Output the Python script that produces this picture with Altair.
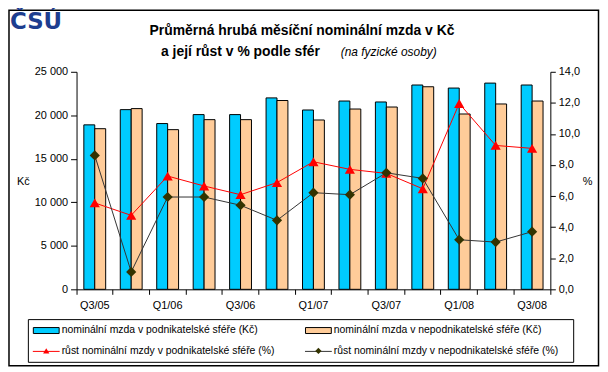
import altair as alt
import pandas as pd

quarters = ["Q3/05", "Q4/05", "Q1/06", "Q2/06", "Q3/06", "Q4/06", "Q1/07",
            "Q2/07", "Q3/07", "Q4/07", "Q1/08", "Q2/08", "Q3/08"]
wage_business = [18900, 20650, 19050, 20080, 20080, 22000, 20610,
                 21640, 21530, 23480, 23130, 23700, 23480]
wage_nonbusiness = [18460, 20770, 18350, 19500, 19500, 21700, 19460,
                    20720, 20950, 23280, 20150, 21300, 21640]
growth_business = [5.56, 4.76, 7.29, 6.65, 6.09, 6.87, 8.21,
                   7.72, 7.46, 6.47, 11.96, 9.26, 9.07]
growth_nonbusiness = [8.62, 1.12, 5.94, 5.94, 5.41, 4.44, 6.22,
                      6.09, 7.50, 7.14, 3.19, 3.04, 3.71]

bar_series = ["nominální mzda v podnikatelské sféře (Kč)",
              "nominální mzda v nepodnikatelské sféře (Kč)"]
line_series = ["růst nominální mzdy v podnikatelské sféře (%)",
               "růst nominální mzdy v nepodnikatelské sféře (%)"]
bar_colors = ["#00CCFF", "#FFCC99"]
line_colors = ["#FF0000", "#333333"]
marker_fill = ["#FF0000", "#333300"]
marker_shapes = ["triangle-up", "diamond"]

left_ticks = [0, 5000, 10000, 15000, 20000, 25000]
right_ticks = [0, 2, 4, 6, 8, 10, 12, 14]

title_line1 = "Průměrná hrubá měsíční nominální mzda v Kč"
title_line2 = "a její růst v % podle sfér"
title_note = "(na fyzické osoby)"
logo = "ČSÚ"

FONT = "Liberation Sans"

bars_df = pd.DataFrame({
    "quarter": quarters * 2,
    "series": [bar_series[0]] * len(quarters) + [bar_series[1]] * len(quarters),
    "value": wage_business + wage_nonbusiness,
})
lines_df = pd.DataFrame({
    "quarter": quarters * 2,
    "series": [line_series[0]] * len(quarters) + [line_series[1]] * len(quarters),
    "value": growth_business + growth_nonbusiness,
})

x_scale = alt.Scale(type="band", domain=quarters, paddingInner=0, paddingOuter=0)
x_axis = alt.Axis(
    title=None, labelAngle=0, labelOverlap=False, labelFont=FONT, labelFontSize=11,
    labelColor="black", domainColor="black", tickColor="black", tickSize=5,
    labelPadding=5, bandPosition=1, tickExtra=True, grid=False,
    labelExpr="(substring(datum.value,1,2) == '1' || substring(datum.value,1,2) == '3') ? datum.value : ''",
)

bars = alt.Chart(bars_df).mark_bar(stroke="black", strokeWidth=1).encode(
    x=alt.X("quarter:N", scale=x_scale, axis=x_axis),
    xOffset=alt.XOffset("series:N", scale=alt.Scale(domain=bar_series, paddingOuter=0.668, paddingInner=0)),
    y=alt.Y("value:Q", scale=alt.Scale(domain=[0, 25000], nice=False),
            axis=alt.Axis(orient="left", values=left_ticks, title="Kč", titleAngle=0,
                          titleX=-54, titleY=110, titleAlign="center", titleBaseline="middle",
                          titleFont=FONT, titleFontSize=11, titleFontWeight="normal",
                          labelFont=FONT, labelFontSize=11, labelColor="black",
                          domainColor="black", tickColor="black", tickSize=6, labelPadding=3,
                          grid=False,
                          labelExpr="replace(format(datum.value, ',.0f'), ',', ' ')")),
    color=alt.Color("series:N", scale=alt.Scale(domain=bar_series, range=bar_colors), legend=None),
)

right_axis = alt.Axis(orient="right", values=right_ticks, title="%", titleAngle=0,
                      titleX=37, titleY=110, titleAlign="center", titleBaseline="middle",
                      titleFont=FONT, titleFontSize=11, titleFontWeight="normal",
                      labelFont=FONT, labelFontSize=11, labelColor="black",
                      domainColor="black", tickColor="black", tickSize=5, labelPadding=3,
                      grid=False,
                      labelExpr="replace(format(datum.value, '.1f'), '.', ',')")

lines = alt.Chart(lines_df).mark_line(strokeWidth=1).encode(
    x=alt.X("quarter:N", scale=x_scale, axis=x_axis),
    y=alt.Y("value:Q", scale=alt.Scale(domain=[0, 14], nice=False), axis=right_axis),
    color=alt.Color("series:N", scale=alt.Scale(domain=line_series, range=line_colors), legend=None),
)
points = alt.Chart(lines_df).mark_point(filled=True, opacity=1, size=105).encode(
    x=alt.X("quarter:N", scale=x_scale, axis=x_axis),
    y=alt.Y("value:Q", scale=alt.Scale(domain=[0, 14], nice=False), axis=right_axis),
    fill=alt.Fill("series:N", scale=alt.Scale(domain=line_series, range=marker_fill), legend=None),
    shape=alt.Shape("series:N", scale=alt.Scale(domain=line_series, range=marker_shapes), legend=None),
)
line_layer = alt.layer(lines, points)

one = alt.Data(values=[{"k": 1}])


def text(txt, x, y, size=11, weight="normal", style="normal", align="left", color="black", font=FONT, baseline="alphabetic"):
    return alt.Chart(one).mark_text(align=align, baseline=baseline, font=font, fontSize=size,
                                    fontWeight=weight, fontStyle=style, color=color).encode(
        x=alt.value(x), y=alt.value(y), text=alt.value(txt))


deco = []
# outer frame
deco.append(alt.Chart(one).mark_rect(fillOpacity=0, stroke="black", strokeWidth=1.5).encode(
    x=alt.value(-68), x2=alt.value(525.5), y=alt.value(-62), y2=alt.value(296)))
# logo
deco.append(text(logo, -67, -43, size=23, weight="bold", color="#1D3D8F", font="DejaVu Sans"))
# title
deco.append(text(title_line1, 227, -37, size=14, weight="bold", align="center"))
deco.append(text(title_line2, 85, -16, size=14, weight="bold"))
deco.append(text(title_note, 266, -16, size=12, style="italic"))
# legend box
deco.append(alt.Chart(one).mark_rect(fillOpacity=0, stroke="black", strokeWidth=1).encode(
    x=alt.value(-48.5), x2=alt.value(500.5), y=alt.value(249.5), y2=alt.value(292.5)))
leg_x = [-44, 230]
leg_y = [260, 281]
for i in range(2):
    deco.append(alt.Chart(one).mark_rect(fill=bar_colors[i], stroke="black", strokeWidth=1).encode(
        x=alt.value(leg_x[i] + 0.5), x2=alt.value(leg_x[i] + 26.5),
        y=alt.value(leg_y[0] - 2.5), y2=alt.value(leg_y[0] + 3.5)))
    deco.append(text(bar_series[i], leg_x[i] + 29, leg_y[0], size=10.5, baseline="middle"))
    deco.append(alt.Chart(one).mark_rule(color=line_colors[i], strokeWidth=1).encode(
        x=alt.value(leg_x[i]), x2=alt.value(leg_x[i] + 27), y=alt.value(leg_y[1] + 0.5)))
    deco.append(alt.Chart(one).mark_point(filled=True, opacity=1, size=40, shape=marker_shapes[i],
                                          color=marker_fill[i]).encode(
        x=alt.value(leg_x[i] + 13.5), y=alt.value(leg_y[1])))
    deco.append(text(line_series[i], leg_x[i] + 29, leg_y[1], size=10.5, baseline="middle"))

chart = alt.layer(bars, line_layer, *deco).resolve_scale(
    y="independent", color="independent"
).properties(
    width=477, height=219,
    autosize=alt.AutoSizeParams(type="none"),
    padding={"left": 69, "top": 63, "right": 50, "bottom": 79},
    background="white",
).configure_view(strokeWidth=0)

chart.save("out.html", embed_options={"renderer": "svg", "actions": False})
